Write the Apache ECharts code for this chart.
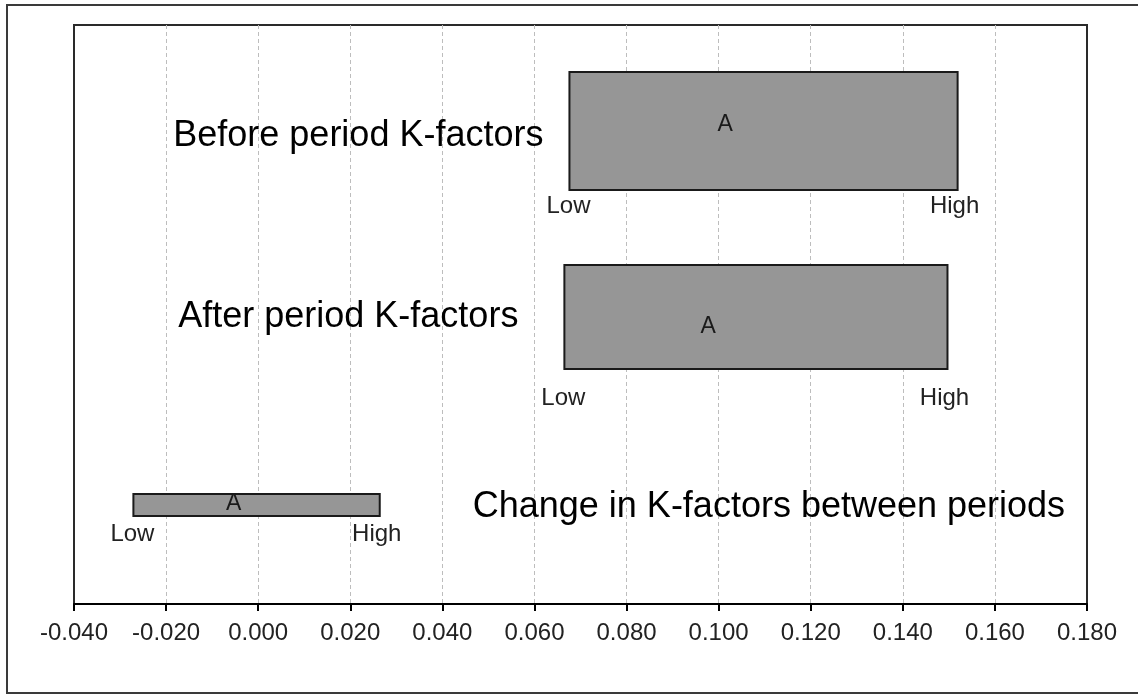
<!DOCTYPE html>
<html>
<head>
<meta charset="utf-8">
<script src="https://cdn.jsdelivr.net/npm/echarts@6/dist/echarts.min.js"></script>
<style>
  html, body { margin: 0; padding: 0; background: #fff; }
  #chart { width: 1138px; height: 694px; }
</style>
</head>
<body>
<div id="chart"></div>
<script>
// ---- data ----
const categories = ['Before period K-factors', 'After period K-factors', 'Change in K-factors between periods'];
const lowValues = [0.0676, 0.0665, -0.0271];
const highValues = [0.1519, 0.1497, 0.0264];
const pointValues = [0.1014, 0.0977, -0.0053];
const pointLabel = 'A';
const lowLabel = 'Low';
const highLabel = 'High';
const xMin = -0.04;
const xMax = 0.18;
const xStep = 0.02;

// ---- layout / style (per row, in pixels relative to the category centre) ----
const rowStyle = [
  { barHeight: 118, barShift: 9.5, nameSide: 'left', nameGap: 26, nameShift: 14.5, pointShift: 3.5, endShift: 84.5 },
  { barHeight: 104, barShift: 2.5, nameSide: 'left', nameGap: 46, nameShift: 2.5, pointShift: 12.5, endShift: 83.5 },
  { barHeight: 22, barShift: -2.5, nameSide: 'right', nameGap: 93, nameShift: -0.5, pointShift: -3.5, endShift: 26.5 }
];
const FONT = 'Liberation Sans, Arial, sans-serif';

const seriesData = categories.map((c, i) => [i, lowValues[i], highValues[i], pointValues[i]]);

function renderItem(params, api) {
  const i = api.value(0);
  const st = rowStyle[params.dataIndex];
  const pLow = api.coord([api.value(1), i]);
  const pHigh = api.coord([api.value(2), i]);
  const pPoint = api.coord([api.value(3), i]);
  const cy = pLow[1];
  const barTop = cy + st.barShift - st.barHeight / 2;
  const children = [
    {
      type: 'rect',
      shape: { x: pLow[0], y: barTop, width: pHigh[0] - pLow[0], height: st.barHeight },
      style: { fill: '#969696', stroke: '#1a1a1a', lineWidth: 2 }
    },
    {
      type: 'text',
      style: { text: pointLabel, x: pPoint[0], y: cy + st.pointShift, align: 'center', verticalAlign: 'middle',
               fontSize: 23, fontFamily: FONT, fill: '#1a1a1a' }
    },
    {
      type: 'text',
      style: { text: lowLabel, x: pLow[0] - 1, y: cy + st.endShift, align: 'center', verticalAlign: 'middle',
               fontSize: 24, fontFamily: FONT, fill: '#222' }
    },
    {
      type: 'text',
      style: { text: highLabel, x: pHigh[0] - 3, y: cy + st.endShift, align: 'center', verticalAlign: 'middle',
               fontSize: 24, fontFamily: FONT, fill: '#222' }
    },
    {
      type: 'text',
      style: {
        text: categories[params.dataIndex],
        x: st.nameSide === 'left' ? pLow[0] - st.nameGap : pHigh[0] + st.nameGap,
        y: cy + st.nameShift,
        align: st.nameSide === 'left' ? 'right' : 'left',
        verticalAlign: 'middle',
        fontSize: 36, fontFamily: FONT, fill: '#000'
      }
    }
  ];
  return { type: 'group', children: children };
}

const chart = echarts.init(document.getElementById('chart'), null, { renderer: 'canvas' });
chart.setOption({
  backgroundColor: '#fff',
  animation: false,
  graphic: [{
    type: 'rect', z: 0, silent: true,
    shape: { x: 7, y: 5, width: 1200, height: 688 },
    style: { fill: 'none', stroke: '#3a3a3a', lineWidth: 2 }
  }],
  grid: {
    left: 74, right: 51, top: 25, bottom: 90,
    show: true, borderColor: '#2a2a2a', borderWidth: 2, backgroundColor: 'transparent'
  },
  xAxis: {
    type: 'value', min: xMin, max: xMax, interval: xStep,
    axisLine: { show: true, onZero: false, lineStyle: { color: '#000', width: 2 } },
    axisTick: { show: true, length: 7, lineStyle: { color: '#000', width: 2 } },
    splitLine: { show: true, showMinLine: false, showMaxLine: false,
                 lineStyle: { color: '#bdbdbd', width: 1, type: [4, 3] } },
    axisLabel: {
      formatter: v => v.toFixed(3),
      fontSize: 24, fontFamily: FONT, color: '#222', margin: 17
    }
  },
  yAxis: {
    type: 'category', data: categories, inverse: true,
    axisLine: { show: false }, axisTick: { show: false }, axisLabel: { show: false }, splitLine: { show: false }
  },
  series: [{
    type: 'custom',
    renderItem: renderItem,
    clip: false,
    encode: { y: 0, x: [1, 2, 3] },
    data: seriesData,
    z: 5
  }]
});
</script>
</body>
</html>
